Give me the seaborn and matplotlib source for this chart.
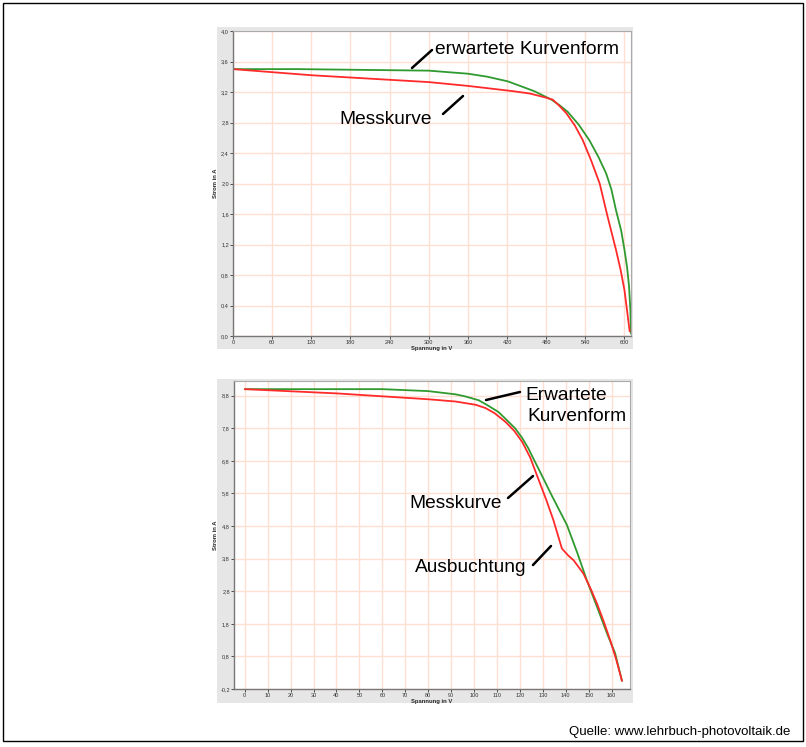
import matplotlib
matplotlib.use("Agg")
import matplotlib.pyplot as plt
import seaborn as sns
import pandas as pd
from matplotlib.patches import Rectangle
from matplotlib.lines import Line2D

# ---- data ----
top_v_mess = [0, 60, 120, 180, 240, 300, 360, 400, 430, 455, 478, 490, 500, 511, 524, 536, 549, 562, 574, 587, 594, 600, 604, 608]
top_i_mess = [3.50, 3.46, 3.42, 3.39, 3.36, 3.33, 3.28, 3.24, 3.21, 3.18, 3.13, 3.10, 3.02, 2.92, 2.76, 2.57, 2.30, 2.00, 1.57, 1.13, 0.87, 0.60, 0.33, 0.06]
top_v_erw = [0, 100, 200, 300, 360, 390, 421, 440, 462, 488, 500, 513, 530, 546, 560, 572, 580, 587, 595, 600, 604, 607, 609, 610]
top_i_erw = [3.50, 3.50, 3.49, 3.48, 3.44, 3.40, 3.34, 3.28, 3.21, 3.10, 3.03, 2.94, 2.77, 2.57, 2.35, 2.13, 1.92, 1.65, 1.38, 1.13, 0.90, 0.65, 0.35, 0.03]

bot_v_mess = [0, 40, 80, 92, 100.7, 105, 109, 113.8, 117.5, 121, 124.5, 128.8, 131.5, 134.6, 138.3, 141, 143.4, 147.7, 151, 153.6, 156.5, 159.4, 162, 164.5]
bot_i_mess = [9.0, 8.87, 8.69, 8.62, 8.52, 8.42, 8.26, 7.99, 7.72, 7.38, 6.90, 6.10, 5.60, 4.98, 4.11, 3.90, 3.75, 3.34, 2.85, 2.42, 1.88, 1.29, 0.70, 0.05]
bot_v_erw = [0, 40, 60, 80, 92, 96, 102, 106, 110.6, 114, 118, 121, 123.7, 126, 128.8, 134, 140.5, 145, 149.2, 154, 158, 161.5, 164.5]
bot_i_erw = [9.0, 9.0, 9.0, 8.94, 8.84, 8.78, 8.66, 8.50, 8.30, 8.07, 7.79, 7.50, 7.18, 6.85, 6.46, 5.72, 4.83, 3.98, 3.13, 2.25, 1.50, 0.90, 0.05]

top_xticks = [0, 60, 120, 180, 240, 300, 360, 420, 480, 540, 600]
top_yticks = [0.0, 0.4, 0.8, 1.2, 1.6, 2.0, 2.4, 2.8, 3.2, 3.6, 4.0]
bot_xticks = [0, 10, 20, 30, 40, 50, 60, 70, 80, 90, 100, 110, 120, 130, 140, 150, 160]
bot_yticks = [-0.2, 0.8, 1.8, 2.8, 3.8, 4.8, 5.8, 6.8, 7.8, 8.8]

x_label = "Spannung in V"
y_label = "Strom in A"
source = "Quelle: www.lehrbuch-photovoltaik.de"

RED = "#ff2a2a"
GREEN = "#2f9a2f"
GRID = "#ffdfd2"
PANEL = "#e6e6e6"

sns.set_style("white")
plt.rcParams['font.family'] = ['Liberation Sans', 'DejaVu Sans']

W, H = 806, 747
fig = plt.figure(figsize=(W / 100, H / 100), dpi=100)
fig.patch.set_facecolor("white")

def fx(x):
    return x / W

def fy(y):
    return 1 - y / H

# outer black frame
fig.patches.append(Rectangle((fx(3), fy(741)), fx(800), 738 / H, transform=fig.transFigure,
                             fill=False, edgecolor="black", linewidth=1.0, zorder=-2))
# gray screenshot panels
fig.patches.append(Rectangle((fx(217), fy(349)), fx(416), 322 / H, transform=fig.transFigure,
                             facecolor=PANEL, edgecolor="none", zorder=-2))
fig.patches.append(Rectangle((fx(217), fy(703)), fx(416), 324 / H, transform=fig.transFigure,
                             facecolor=PANEL, edgecolor="none", zorder=-2))

ax1 = fig.add_axes([fx(233), fy(336), fx(631 - 233), (336 - 31) / H])
ax2 = fig.add_axes([fx(234), fy(689), fx(630 - 234), (689 - 381) / H])

def style(ax, xticks, yticks, xlim, ylim):
    ax.set_facecolor("white")
    ax.set_xlim(*xlim)
    ax.set_ylim(*ylim)
    ax.set_xticks(xticks)
    ax.set_yticks(yticks)
    ax.set_xticklabels([str(t) for t in xticks])
    ax.set_yticklabels([f"{t:.1f}".replace(".", ",") for t in yticks])
    ax.grid(True, color=GRID, linewidth=1.0)
    ax.set_axisbelow(True)
    ax.tick_params(axis="both", labelsize=4, length=2, width=0.6, pad=1,
                   colors="#333333", direction="out", bottom=True, left=True)
    for s in ["left", "bottom"]:
        ax.spines[s].set_color("#777777")
        ax.spines[s].set_linewidth(1.0)
    for s in ["top", "right"]:
        ax.spines[s].set_color("#aaaaaa")
        ax.spines[s].set_linewidth(0.8)
    ax.set_xlabel(x_label, fontsize=4.2, fontweight="bold", labelpad=0.5)
    ax.set_ylabel(y_label, fontsize=4.2, fontweight="bold", labelpad=2)

def draw(ax, vm, im, ve, ie):
    dm = pd.DataFrame({"V": vm, "I": im})
    de = pd.DataFrame({"V": ve, "I": ie})
    sns.lineplot(data=de, x="V", y="I", ax=ax, color=GREEN, linewidth=1.3, sort=False, estimator=None)
    sns.lineplot(data=dm, x="V", y="I", ax=ax, color=RED, linewidth=1.3, sort=False, estimator=None)

draw(ax1, top_v_mess, top_i_mess, top_v_erw, top_i_erw)
style(ax1, top_xticks, top_yticks, (0, 610), (0, 4.0))
draw(ax2, bot_v_mess, bot_i_mess, bot_v_erw, bot_i_erw)
style(ax2, bot_xticks, bot_yticks, (-4.7, 168), (-0.2, 9.25))

# annotations (figure pixel coordinates)
def pline(x0, y0, x1, y1):
    fig.add_artist(Line2D([fx(x0), fx(x1)], [fy(y0), fy(y1)], transform=fig.transFigure,
                          color="black", linewidth=1.8))

def ptext(x, y, s, ha="left"):
    fig.text(fx(x), fy(y), s, fontsize=13.8, ha=ha, va="center", color="black")

ptext(435, 49, "erwartete Kurvenform")
pline(412, 68, 432, 50)
ptext(339, 119, "Messkurve")
pline(443, 114, 463, 96)

ptext(525, 395, "Erwartete")
ptext(527, 417, "Kurvenform")
pline(486, 400, 520, 392)
ptext(409, 503, "Messkurve")
pline(508, 498, 533, 476)
ptext(415, 568, "Ausbuchtung")
pline(533, 565, 551, 546)

fig.text(fx(790), fy(732), source, fontsize=9.5, ha="right", va="center", color="black")

fig.savefig("out.png", dpi=100, facecolor="white")
